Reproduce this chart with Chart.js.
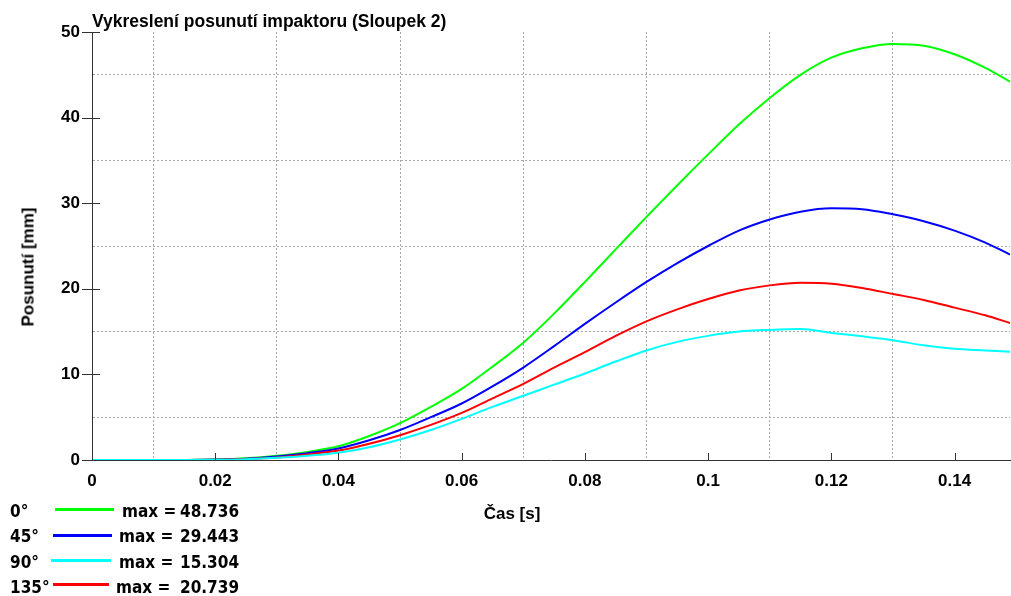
<!DOCTYPE html>
<html>
<head>
<meta charset="utf-8">
<script src="https://cdn.jsdelivr.net/npm/chart.js@4"></script>
<style>
  html, body { margin:0; padding:0; background:#fff; }
  #wrap { position:relative; width:1011px; height:596px; overflow:hidden; }
  canvas { position:absolute; left:0; top:0; }
  .t { position:absolute; font-family:"Liberation Sans", Arial, sans-serif; font-weight:bold; font-size:17px; color:#000; white-space:nowrap; line-height:1; }
  .lg { position:absolute; font-family:"DejaVu Sans Condensed","DejaVu Sans",sans-serif; font-stretch:condensed; font-weight:bold; font-size:17px; color:#000; white-space:nowrap; line-height:1; }
  .ln { position:absolute; height:3px; }
</style>
</head>
<body>
<div id="wrap">
  <canvas id="c" width="1011" height="596"></canvas>
  <div class="t" id="title" style="left:92px; top:13px; font-size:17.5px;">Vykreslení posunutí impaktoru (Sloupek 2)</div>
  <div class="t" id="ytitle" style="left:28px; top:267px; transform:translate(-50%,-50%) rotate(-90deg);">Posunutí [mm]</div>
  <div class="t" id="xtitle" style="left:512px; top:513px; transform:translate(-50%,-50%);">Čas [s]</div>
  <div id="legend"></div>
</div>
<script>
// ---- data ----
const time = [0, 0.005, 0.01, 0.015, 0.02, 0.025, 0.03, 0.035, 0.04, 0.045, 0.05, 0.055, 0.06, 0.065, 0.07, 0.075, 0.08, 0.085, 0.09, 0.095, 0.1, 0.105, 0.11, 0.115, 0.12, 0.125, 0.13, 0.135, 0.14, 0.145, 0.149];
const deg0   = [0, 0, 0, 0, 0.05, 0.2, 0.5, 0.95, 1.6, 2.8, 4.3, 6.2, 8.3, 10.9, 13.7, 17.1, 20.8, 24.6, 28.4, 32.1, 35.7, 39.2, 42.3, 45.0, 47.0, 48.1, 48.6, 48.4, 47.4, 45.8, 44.2];
const deg45  = [0, 0, 0, 0, 0.05, 0.15, 0.4, 0.8, 1.35, 2.3, 3.5, 5.0, 6.6, 8.6, 10.8, 13.3, 15.9, 18.4, 20.8, 23.0, 25.0, 26.8, 28.1, 29.0, 29.4, 29.3, 28.7, 27.9, 26.8, 25.4, 24.0];
const deg90  = [0, 0, 0, 0, 0.02, 0.1, 0.25, 0.5, 0.85, 1.5, 2.4, 3.5, 4.8, 6.2, 7.5, 8.8, 10.1, 11.5, 12.8, 13.8, 14.5, 15.0, 15.2, 15.3, 14.85, 14.45, 14.0, 13.4, 13.0, 12.8, 12.65];
const deg135 = [0, 0, 0, 0, 0.03, 0.12, 0.3, 0.65, 1.1, 1.9, 2.9, 4.1, 5.5, 7.2, 8.9, 10.8, 12.6, 14.5, 16.2, 17.6, 18.8, 19.8, 20.4, 20.7, 20.6, 20.1, 19.4, 18.7, 17.8, 16.9, 16.0];
const seriesNames = ["0°", "45°", "90°", "135°"];
const seriesMax = ["48.736", "29.443", "15.304", "20.739"];
const seriesColors = ["#00ff00", "#0000ff", "#00ffff", "#ff0000"];
const xTicksMajor = [0, 0.02, 0.04, 0.06, 0.08, 0.1, 0.12, 0.14];
const yTicksMajor = [0, 10, 20, 30, 40, 50];

const seriesData = [deg0, deg45, deg90, deg135];
const drawOrder = [3, 2, 0, 1];

function pts(arr) { return time.map((t, i) => ({x: t, y: arr[i]})); }

const datasets = seriesData.map((arr, i) => ({
  label: seriesNames[i],
  data: pts(arr),
  borderColor: seriesColors[i],
  backgroundColor: seriesColors[i],
  borderWidth: 2,
  pointRadius: 0,
  cubicInterpolationMode: 'monotone',
  order: drawOrder[i],
  fill: false
}));

function isMinor(v, unit) {
  const k = v / unit;
  if (Math.abs(k - Math.round(k)) > 1e-6) return null;
  return Math.round(k) % 2 !== 0;
}

const tickMarks = {
  id: 'tickMarks',
  afterDraw(chart) {
    const ctx = chart.ctx;
    const xs = chart.scales.x, ys = chart.scales.y;
    const ca = chart.chartArea;
    ctx.save();
    ctx.strokeStyle = '#333';
    ctx.lineWidth = 1;
    xTicksMajor.forEach(v => {
      const px = Math.round(xs.getPixelForValue(v)) + 0.5;
      ctx.beginPath(); ctx.moveTo(px, ca.bottom - 7); ctx.lineTo(px, ca.bottom); ctx.stroke();
    });
    yTicksMajor.forEach(v => {
      const py = Math.round(ys.getPixelForValue(v)) + 0.5;
      ctx.beginPath(); ctx.moveTo(ca.left - 10, py); ctx.lineTo(ca.left + 8, py); ctx.stroke();
    });
    ctx.restore();
  }
};

new Chart(document.getElementById('c'), {
  type: 'line',
  data: { datasets },
  options: {
    responsive: false,
    animation: false,
    layout: { padding: { top: 32, right: 1, left: 0, bottom: 0 } },
    plugins: { legend: { display: false }, tooltip: { enabled: false }, title: { display: false } },
    scales: {
      x: {
        type: 'linear', min: 0, max: 0.149,
        afterFit(s) { s.height = 136; },
        border: { display: true, color: '#333', width: 1, dash: [2, 2] },
        grid: {
          drawTicks: false,
          color: ctx => (ctx.tick && isMinor(ctx.tick.value, 0.01) === true) ? '#a8a8a8' : 'rgba(0,0,0,0)',
          lineWidth: 1
        },
        ticks: {
          stepSize: 0.01, autoSkip: false, maxRotation: 0, padding: 11, includeBounds: false,
          color: '#000',
          font: { family: 'Liberation Sans', weight: 'bold', size: 17 },
          callback: v => (isMinor(v, 0.01) === false) ? String(parseFloat(v.toFixed(2))) : ''
        }
      },
      y: {
        type: 'linear', min: 0, max: 50,
        afterFit(s) { s.width = 92; },
        border: { display: true, color: '#333', width: 1, dash: [2, 2] },
        grid: {
          drawTicks: false,
          color: ctx => (ctx.tick && isMinor(ctx.tick.value, 5) === true) ? '#a8a8a8' : 'rgba(0,0,0,0)',
          lineWidth: 1
        },
        ticks: {
          stepSize: 5, autoSkip: false, padding: 12, includeBounds: false,
          color: '#000',
          font: { family: 'Liberation Sans', weight: 'bold', size: 17 },
          callback: v => (isMinor(v, 5) === false) ? String(v) : ''
        }
      }
    }
  },
  plugins: [tickMarks]
});

// ---- legend (HTML) ----
const legendRows = [
  {top: 503, lineL: 55, lineR: 114, lineY: 509, maxL: 122},
  {top: 528, lineL: 53, lineR: 112, lineY: 535, maxL: 119},
  {top: 554, lineL: 51, lineR: 111, lineY: 560, maxL: 119},
  {top: 579, lineL: 53, lineR: 109, lineY: 584, maxL: 116}
];
const lg = document.getElementById('legend');
legendRows.forEach((r, i) => {
  const a = document.createElement('div'); a.className = 'lg'; a.style.left = '10px'; a.style.top = r.top + 'px'; a.textContent = seriesNames[i]; lg.appendChild(a);
  const l = document.createElement('div'); l.className = 'ln'; l.style.left = r.lineL + 'px'; l.style.width = (r.lineR - r.lineL) + 'px'; l.style.top = (r.lineY - 1) + 'px'; l.style.background = seriesColors[i]; lg.appendChild(l);
  const m = document.createElement('div'); m.className = 'lg'; m.style.left = r.maxL + 'px'; m.style.top = r.top + 'px'; m.textContent = 'max ='; lg.appendChild(m);
  const v = document.createElement('div'); v.className = 'lg'; v.style.left = '180px'; v.style.top = r.top + 'px'; v.textContent = seriesMax[i]; lg.appendChild(v);
});
</script>
</body>
</html>
